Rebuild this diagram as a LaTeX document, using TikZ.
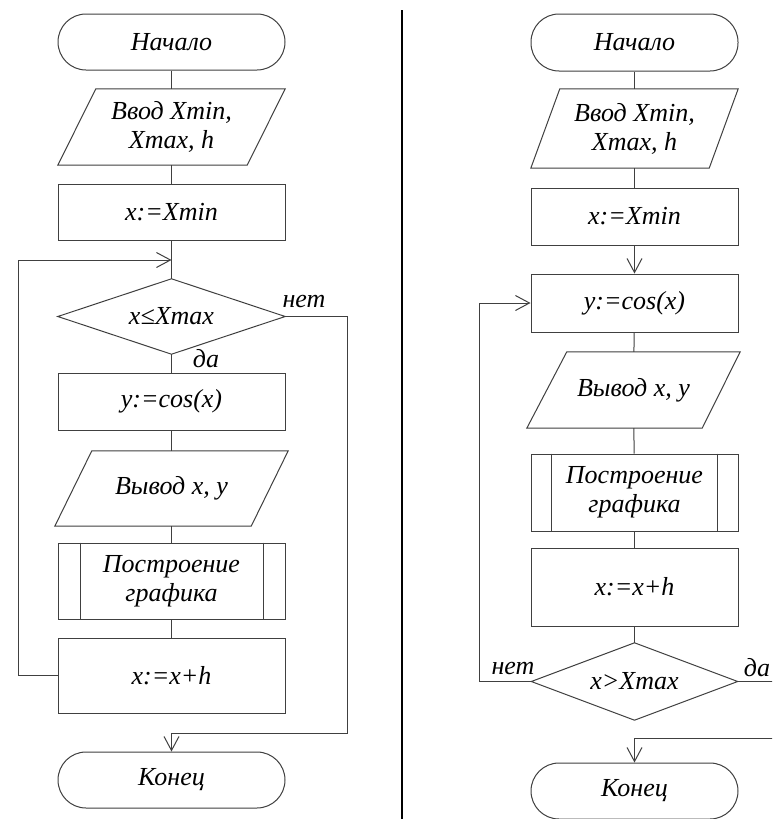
\documentclass[tikz,border=0pt]{standalone}
\usepackage{fontspec}
\setmainfont{Liberation Serif}
\newfontfamily\chartfont{Liberation Serif Italic}
\usetikzlibrary{arrows.meta}
\definecolor{lc}{RGB}{64,64,64}
\tikzset{
  base/.style={draw=none, minimum width=227pt, inner sep=0pt, align=center, text=black,
    font=\fontsize{26}{29}\chartfont},
  term/.style={base, draw=lc, line width=1pt, rounded corners=28pt},
  proc/.style={base, draw=lc, line width=1pt, rectangle},
  shp/.style={draw=lc, line width=1pt},
  ln/.style={draw=lc, line width=1pt},
  arr/.style={-{Straight Barb[length=14pt,width=15pt]}},
  lbl/.style={inner sep=0pt, text=black, font=\fontsize{26}{29}\chartfont},
  sep/.style={draw=black, line width=2.4pt}
}
\begin{document}
\begin{tikzpicture}[x=1pt,y=-1pt]
\clip (0,0) rectangle (772,819);
\fill[white] (0,0) rectangle (772,819);

% ---------- left chart ----------
\node[term, minimum height=56pt] (a1) at (171.5,42) {Начало};
\node[base, minimum height=76pt] (a2) at (171.5,127) {Ввод Xmin,\\Xmax, h};
\draw[shp] ([xshift=38pt]a2.north west) -- (a2.north east) -- ([xshift=-38pt]a2.south east) -- (a2.south west) -- cycle;
\node[proc, minimum height=56pt] (a3) at (171.5,212) {x:=Xmin};
\coordinate (aj) at (171.5,260);
\node[base, minimum height=75pt] (a4) at (171.5,316.5) {x≤Xmax};
\draw[shp] (a4.north) -- (a4.east) -- (a4.south) -- (a4.west) -- cycle;
\node[proc, minimum height=57pt] (a5) at (171.5,401.5) {y:=cos(x)};
\node[base, minimum width=233pt, minimum height=75pt] (a6) at (171.5,488.5) {Вывод x, y};
\draw[shp] ([xshift=37pt]a6.north west) -- (a6.north east) -- ([xshift=-37pt]a6.south east) -- (a6.south west) -- cycle;
\node[proc, minimum height=76pt] (a7) at (171.5,581) {Построение\\графика};
\draw[shp] ([xshift=23pt]a7.north west) -- ([xshift=23pt]a7.south west);
\draw[shp] ([xshift=-22pt]a7.north east) -- ([xshift=-22pt]a7.south east);
\node[proc, minimum height=75pt] (a8) at (171.5,675.5) {x:=x+h};
\node[term, minimum height=56pt] (a9) at (171.5,780) {Конец};
\node[lbl] (anet) at (304,301) {нет};
\node[lbl] (ada) at (206,359) {да};
\coordinate (al1) at (18,675.5);
\coordinate (al2) at (18,260);
\coordinate (ar1) at (347,316.5);
\coordinate (ar2) at (347,733);
\coordinate (ab) at (171.5,733);

\draw[ln] (a1) -- (a2);
\draw[ln] (a2) -- (a3);
\draw[ln] (a3.south) -- (aj) -- (a4.north);
\draw[ln,arr] (a8.west) -- (al1) -- (al2) -- (aj);
\draw[ln] (a4.south) -- (a5.north);
\draw[ln] (a5) -- (a6);
\draw[ln] (a6) -- (a7);
\draw[ln] (a7) -- (a8);
\draw[ln] (a4.east) -- (ar1) -- (ar2) -- (ab);
\draw[ln,arr] (ab) -- (a9.north);

% ---------- separator ----------
\coordinate (s1) at (402,10);
\coordinate (s2) at (402,830);
\draw[sep] (s1) -- (s2);

% ---------- right chart ----------
\node[term, minimum width=207pt, minimum height=57pt] (b1) at (634.5,42.5) {Начало};
\node[base, minimum width=207pt, minimum height=79pt] (b2) at (634.5,128.5) {Ввод Xmin,\\Xmax, h};
\draw[shp] ([xshift=29pt]b2.north west) -- (b2.north east) -- ([xshift=-29pt]b2.south east) -- (b2.south west) -- cycle;
\node[proc, minimum width=207pt, minimum height=57pt] (b3) at (634.5,216.5) {x:=Xmin};
\node[proc, minimum width=207pt, minimum height=58pt] (b4) at (634.5,303) {y:=cos(x)};
\node[base, minimum width=213pt, minimum height=76pt] (b5) at (633.5,390) {Вывод x, y};
\draw[shp] ([xshift=40pt]b5.north west) -- (b5.north east) -- ([xshift=-38pt]b5.south east) -- (b5.south west) -- cycle;
\node[proc, minimum width=207pt, minimum height=77pt] (b6) at (634.5,492.5) {Построение\\графика};
\draw[shp] ([xshift=21pt]b6.north west) -- ([xshift=21pt]b6.south west);
\draw[shp] ([xshift=-21pt]b6.north east) -- ([xshift=-21pt]b6.south east);
\node[proc, minimum width=207pt, minimum height=78pt] (b7) at (634.5,587) {x:=x+h};
\node[base, minimum width=206pt, minimum height=77pt] (b8) at (634.5,681.5) {x>Xmax};
\draw[shp] (b8.north) -- (b8.east) -- (b8.south) -- (b8.west) -- cycle;
\node[term, minimum width=207pt, minimum height=56pt] (b9) at (634.5,791) {Конец};
\node[lbl] (bnet) at (513,668) {нет};
\node[lbl] (bda) at (757,668) {да};
\coordinate (bl1) at (479,681.5);
\coordinate (bl2) at (479,303);
\coordinate (br1) at (790,681.5);
\coordinate (br2) at (790,738);
\coordinate (bb) at (634.5,738);

\draw[ln] (b1) -- (b2);
\draw[ln] (b2) -- (b3);
\draw[ln,arr] (b3) -- (b4);
\draw[ln] (b4) -- (b5);
\draw[ln] (b5) -- (b6);
\draw[ln] (b6) -- (b7);
\draw[ln] (b7.south) -- (b8.north);
\draw[ln,arr] (b8.west) -- (bl1) -- (bl2) -- (b4.west);
\draw[ln] (b8.east) -- (br1) -- (br2) -- (bb);
\draw[ln,arr] (bb) -- (b9.north);
\end{tikzpicture}
\end{document}
